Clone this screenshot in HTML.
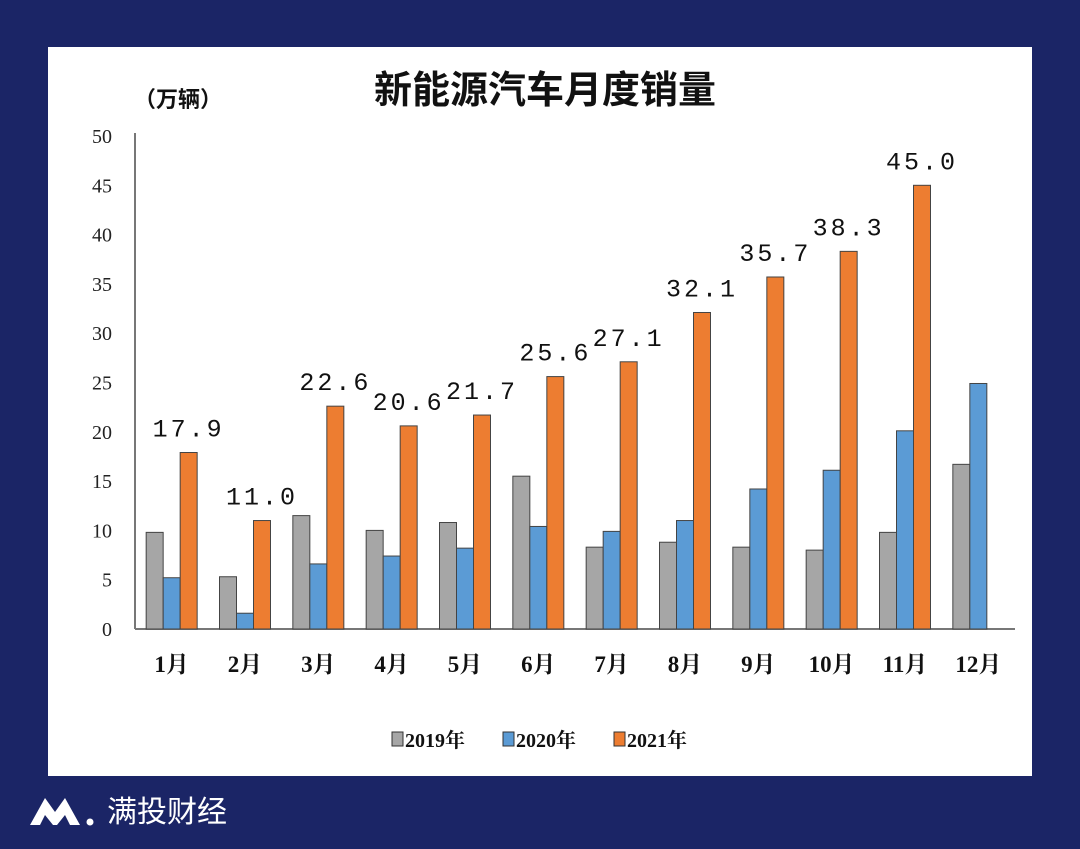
<!DOCTYPE html>
<html><head><meta charset="utf-8"><style>
body{margin:0;width:1080px;height:844px;background:#1b2566;overflow:hidden;font-family:"Liberation Serif","Noto Serif CJK SC",serif}
</style></head><body>
<svg width="1080" height="844" xmlns="http://www.w3.org/2000/svg">
<rect x="48" y="47" width="984" height="729" fill="#fff"/>
<text x="545" y="103" text-anchor="middle" font-size="38" font-weight="bold" fill="#111" font-family="Liberation Sans, Noto Sans CJK SC, sans-serif">新能源汽车月度销量</text>
<text x="178" y="107" text-anchor="middle" font-size="22" font-weight="bold" fill="#111" font-family="Liberation Sans, Noto Sans CJK SC, sans-serif">（万辆）</text>
<g id="axes"></g><g id="bars"></g><g id="labels"></g>
<g font-size="20" font-weight="bold" fill="#111">
<rect x="392" y="732" width="11" height="14" fill="#a6a6a6" stroke="#333"/><text x="405" y="747">2019年</text>
<rect x="503" y="732" width="11" height="14" fill="#5b9bd5" stroke="#333"/><text x="516" y="747">2020年</text>
<rect x="614" y="732" width="11" height="14" fill="#ed7d31" stroke="#333"/><text x="627" y="747">2021年</text>
</g>
<g>
<path d="M30 825 L45 798 L55 812 L65 798 L80 825 L70 825 L65 815 L57 825 L53 825 L45 815 L40 825Z" fill="#fff"/>
<circle cx="90" cy="822" r="3.5" fill="#fff"/>
<text x="107" y="822" font-size="30" fill="#fff" font-family="Liberation Sans, Noto Sans CJK SC, sans-serif">满投财经</text>
</g>
</svg>
<script>
const months=["1月","2月","3月","4月","5月","6月","7月","8月","9月","10月","11月","12月"];
const s2019=[9.8,5.3,11.5,10,10.8,15.5,8.3,8.8,8.3,8,9.8,16.7];
const s2020=[5.2,1.6,6.6,7.4,8.2,10.4,9.9,11,14.2,16.1,20.1,24.9];
const s2021=[17.9,11.0,22.6,20.6,21.7,25.6,27.1,32.1,35.7,38.3,45.0,null];
const yTicks=[0,5,10,15,20,25,30,35,40,45,50];
const NS="http://www.w3.org/2000/svg";
const x0=135,x1=1015,y0=629,y1=136;
const y=v=>y0-(v/50)*(y0-y1);
const gw=(x1-x0)/12;
const xc=i=>x0+gw*(i+0.5);
function mk(tag,attrs,parent,txt){const e=document.createElementNS(NS,tag);for(const k in attrs)e.setAttribute(k,attrs[k]);if(txt!=null)e.textContent=txt;document.getElementById(parent).appendChild(e);return e;}
let e=mk("line",{x1:x0,y1:133,x2:x0,y2:y0,stroke:"#777","stroke-width":2},"axes");


e=mk("line",{x1:x0,y1:y0,x2:x1,y2:y0,stroke:"#777","stroke-width":2},"axes");


yTicks.forEach(t=>{const el=mk("text",{x:112,y:y(t)+7,"text-anchor":"end","font-size":20,fill:"#222"},"axes",t);

});
months.forEach((m,i)=>{const el=mk("text",{x:xc(i),y:672,"text-anchor":"middle","font-size":23,"font-weight":"bold",fill:"#111"},"axes",m);

});
const series=[[s2019,"#a6a6a6",-1.5],[s2020,"#5b9bd5",-0.5],[s2021,"#ed7d31",0.5]];
const bw=17;
series.forEach(([arr,col,off],si)=>{arr.forEach((v,i)=>{if(v==null)return;
const el=mk("rect",{x:xc(i)+off*bw,y:y(v),width:bw,height:y0-y(v),fill:col,stroke:"#444","stroke-width":1},"bars");

});});
s2021.forEach((v,i)=>{if(v==null)return;
const el=mk("text",{x:xc(i)+0.5*bw+bw/2,y:y(v)-16,"text-anchor":"middle","font-size":25,"letter-spacing":"3",fill:"#111","font-family":"Liberation Mono, monospace"},"labels",v.toFixed(1));

});
</script>
</body></html>
